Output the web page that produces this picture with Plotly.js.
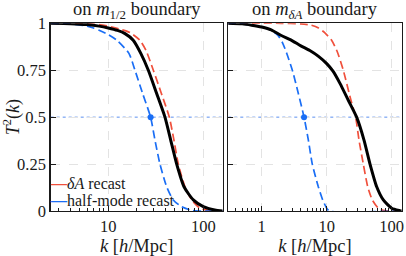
<!DOCTYPE html>
<html>
<head>
<meta charset="utf-8">
<script src="https://cdn.plot.ly/plotly-3.0.1.min.js"></script>
<style>html,body{margin:0;padding:0;background:#fff}#chart{width:406px;height:256px}</style>
</head>
<body>
<div id="chart"></div>
<script>
// ---- Data ----
// Left panel: "on m_{1/2} boundary"
const kBlackL = [2.5, 4, 6, 8, 10, 12.5, 15, 18.3, 22, 26.4, 32.3, 39.5, 45.4, 52.5, 62.7, 78.5, 100, 132, 160];
const tBlackL = [1.0, 0.998, 0.993, 0.985, 0.975, 0.962, 0.945, 0.91, 0.84, 0.75, 0.626, 0.5, 0.378, 0.25, 0.129, 0.059, 0.023, 0.005, 0.0];
const kRedL = [2.5, 5, 8, 10, 13, 17, 21.5, 25, 29.8, 36, 43.9, 49, 54.6, 64.1, 75.5, 92, 117, 160];
const tRedL = [1.0, 0.999, 0.993, 0.985, 0.97, 0.95, 0.91, 0.855, 0.75, 0.63, 0.5, 0.38, 0.25, 0.129, 0.059, 0.015, 0.002, 0.0];
const kBlueL = [2.5, 4, 6, 7, 8, 10, 12.3, 16.5, 19.1, 23, 27.9, 31, 35, 41.2, 48.3, 59, 75.5, 90, 160];
const tBlueL = [1.0, 0.996, 0.985, 0.975, 0.963, 0.94, 0.91, 0.84, 0.75, 0.626, 0.5, 0.378, 0.25, 0.129, 0.059, 0.023, 0.003, 0.0, 0.0];
const kHalfL = [27.9];
const tHalfL = [0.5];

// Right panel: "on m_{δA} boundary"
const kBlackR = [0.3, 0.5, 0.7, 1.0, 1.4, 2.0, 2.8, 4.0, 5.5, 7.4, 10, 12.5, 16, 21.5, 28.9, 37.5, 46.4, 58.8, 74.3, 100, 134, 143];
const tBlackR = [1.0, 0.997, 0.99, 0.98, 0.965, 0.935, 0.912, 0.88, 0.855, 0.825, 0.785, 0.745, 0.68, 0.59, 0.5, 0.378, 0.25, 0.129, 0.059, 0.015, 0.002, 0.0];
const kRedR = [0.3, 2, 4, 5.8, 7.5, 9.3, 11.9, 14.5, 18, 23.6, 27.9, 31.4, 36.6, 42.8, 50.3, 62.3, 78, 143];
const tRedR = [1.0, 1.0, 0.997, 0.99, 0.975, 0.95, 0.91, 0.85, 0.75, 0.59, 0.5, 0.378, 0.25, 0.129, 0.059, 0.015, 0.002, 0.0];
const kBlueR = [0.3, 0.5, 0.7, 1.0, 1.4, 1.78, 2.1, 2.43, 2.96, 3.66, 4.48, 5.22, 6.0, 7.43, 8.68, 10, 11, 143];
const tBlueR = [1.0, 0.997, 0.99, 0.98, 0.963, 0.936, 0.895, 0.839, 0.75, 0.626, 0.5, 0.378, 0.25, 0.129, 0.059, 0.015, 0.0, 0.0];
const kHalfR = [4.48];
const tHalfR = [0.5];

const yTickVals = [0, 0.25, 0.5, 0.75, 1];
const yTickText = ['0', '0.25', '0.5', '0.75', '1'];
const xTickValsL = [10, 100];
const xTickValsR = [1, 10, 100];
const halfLevel = 0.5;

const seriesNames = ['<i>δA</i> recast', 'half-mode recast'];
const titles = ['on <i>m</i><sub>1/2</sub> boundary', 'on <i>m</i><sub><i>δA</i></sub> boundary'];

// ---- Styles ----
const RED = '#f0503c';
const BLUE = '#1a6ef5';
const INK = '#1a1a1a';
const FONT = '"Liberation Serif", "DejaVu Serif", serif';
const dashPat = '8px,4px';

function curve(x, y, xa, ya, color, width, dash, name) {
  return {x: x, y: y, xaxis: xa, yaxis: ya, mode: 'lines', name: name || '', showlegend: false,
    line: {color: color, width: width, dash: dash || 'solid', shape: 'spline', smoothing: 0.6}};
}
function dot(x, y, xa, ya) {
  return {x: x, y: y, xaxis: xa, yaxis: ya, mode: 'markers', showlegend: false, marker: {color: BLUE, size: 6}};
}

const traces = [
  curve(kRedL, tRedL, 'x', 'y', RED, 1.7, dashPat, seriesNames[0]),
  curve(kBlueL, tBlueL, 'x', 'y', BLUE, 1.7, dashPat, seriesNames[1]),
  curve(kBlackL, tBlackL, 'x', 'y', '#000', 3),
  dot(kHalfL, tHalfL, 'x', 'y'),
  curve(kRedR, tRedR, 'x2', 'y2', RED, 1.7, dashPat, seriesNames[0]),
  curve(kBlueR, tBlueR, 'x2', 'y2', BLUE, 1.7, dashPat, seriesNames[1]),
  curve(kBlackR, tBlackR, 'x2', 'y2', '#000', 3),
  dot(kHalfR, tHalfR, 'x2', 'y2')
];

const xCommon = {
  type: 'log', showline: true, mirror: true, linecolor: INK, linewidth: 1.5,
  ticks: 'inside', ticklen: 5, tickcolor: INK, tickwidth: 1,
  showgrid: true, gridcolor: '#e3e3e3', griddash: 'dash', gridwidth: 1,
  zeroline: false,
  minor: {ticks: 'inside', ticklen: 3, tickcolor: INK, dtick: 'D1', showgrid: false},
  tickfont: {family: FONT, size: 16.5, color: INK},
  title: {text: '<i>k</i> [<i>h</i>/Mpc]', font: {family: FONT, size: 18.5, color: INK}, standoff: 0}
};
const yCommon = {
  range: [0, 1], showline: true, mirror: true, linecolor: INK, linewidth: 1.5,
  ticks: 'inside', ticklen: 5, tickcolor: INK, tickwidth: 1,
  showgrid: true, gridcolor: '#e3e3e3', griddash: 'dash', gridwidth: 1,
  zeroline: false, tickvals: yTickVals, ticktext: yTickText,
  tickfont: {family: FONT, size: 16.5, color: INK}
};

const legendFont = {family: FONT, size: 16, color: INK};

const layout = {
  width: 406, height: 256,
  margin: {l: 0, r: 0, t: 0, b: 0},
  paper_bgcolor: '#fff', plot_bgcolor: '#fff',
  showlegend: false,
  xaxis: Object.assign({}, xCommon, {domain: [0.1249, 0.5485], range: [Math.log10(2.48), Math.log10(160)], tickvals: xTickValsL, ticktext: xTickValsL.map(String), anchor: 'y'}),
  yaxis: Object.assign({}, yCommon, {domain: [0.1758, 0.909], anchor: 'x',
    title: {text: '<i>T</i><sup>2</sup>(<i>k</i>)', font: {family: FONT, size: 18, color: INK}, standoff: 2}}),
  xaxis2: Object.assign({}, xCommon, {domain: [0.5623, 0.9894], range: [Math.log10(0.306), Math.log10(142.6)], tickvals: xTickValsR, ticktext: xTickValsR.map(String), anchor: 'y2'}),
  yaxis2: Object.assign({}, yCommon, {domain: [0.1758, 0.909], anchor: 'x2', showticklabels: false}),
  shapes: [
    {type: 'line', xref: 'x domain', yref: 'y', x0: 0, x1: 1, y0: halfLevel, y1: halfLevel, line: {color: '#5b8ff0', width: 1, dash: 'dot'}, layer: 'below'},
    {type: 'line', xref: 'x2 domain', yref: 'y2', x0: 0, x1: 1, y0: halfLevel, y1: halfLevel, line: {color: '#5b8ff0', width: 1, dash: 'dot'}, layer: 'below'}
  ],
  annotations: [
    {text: titles[0], xref: 'x domain', yref: 'paper', x: 0.5, y: 0.909, xanchor: 'center', yanchor: 'bottom', yshift: -1, showarrow: false, font: {family: FONT, size: 18.5, color: INK}},
    {text: titles[1], xref: 'x2 domain', yref: 'paper', x: 0.5, y: 0.909, xanchor: 'center', yanchor: 'bottom', yshift: -1, showarrow: false, font: {family: FONT, size: 18.5, color: INK}},
    // legend entries (short coloured handle + label), as in the reference
    {text: '<span style="color:' + RED + '"><b>—</b></span>' + seriesNames[0], xref: 'x domain', yref: 'y domain', x: 0.0, y: 0.148, xanchor: 'left', yanchor: 'middle', showarrow: false, font: legendFont, xshift: -3},
    {text: '<span style="color:' + BLUE + '"><b>—</b></span>' + seriesNames[1], xref: 'x domain', yref: 'y domain', x: 0.0, y: 0.058, xanchor: 'left', yanchor: 'middle', showarrow: false, font: legendFont, xshift: -3}
  ]
};

Plotly.newPlot('chart', traces, layout, {staticPlot: true, displayModeBar: false});
</script>
</body>
</html>
